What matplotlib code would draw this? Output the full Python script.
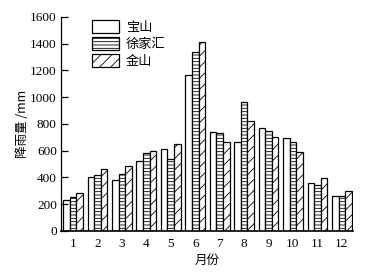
#!/usr/bin/python3

import matplotlib
matplotlib.use("Agg")
import matplotlib.pyplot as plt
import numpy as np

months = np.arange(1, 13)
month_labels = [str(m) for m in months]

baoshan = [230, 405, 377, 520, 610, 1165, 743, 668, 768, 695, 355, 263]
xujiahui = [250, 420, 425, 582, 535, 1335, 735, 963, 748, 668, 343, 263]
jinshan = [282, 462, 485, 595, 650, 1410, 668, 823, 705, 590, 398, 298]

series_names = ["宝山", "徐家汇", "金山"]

#_____________________________________________________________________________
def main():

    plt.rcParams["hatch.linewidth"] = 0.6
    cjk = ["Noto Sans CJK SC", "DejaVu Sans"]
    num = "Liberation Serif"

    fig = plt.figure(figsize=(3.79, 2.72), dpi=100)
    ax = fig.add_axes([0.161, 0.151, 0.770, 0.787])

    wid = 0.27
    hatches = ["", "-----", "///"]
    vals = [baoshan, xujiahui, jinshan]

    for i in range(3):
        ax.bar(months + (i-1)*wid, vals[i], wid, color="white", edgecolor="black",
               lw=0.9, hatch=hatches[i], label=series_names[i])

    ax.set_xlim(0.51, 12.45)
    ax.set_ylim(0, 1600)

    ax.set_yticks(np.arange(0, 1601, 200))
    ax.set_xticks(months)
    ax.set_xticklabels(month_labels)

    for lab in ax.get_xticklabels() + ax.get_yticklabels():
        lab.set_fontfamily(num)
        lab.set_fontsize(9.5)

    ax.tick_params(axis="y", direction="in", length=5, width=0.9, pad=3)
    ax.tick_params(axis="x", direction="in", length=0, pad=5)

    ax.spines["top"].set_visible(False)
    ax.spines["right"].set_visible(False)
    ax.spines["left"].set_linewidth(0.9)
    ax.spines["bottom"].set_linewidth(1.2)

    ax.set_xlabel("月份", family=cjk, fontsize=9, labelpad=3)
    ax.set_ylabel("降雨量 /mm", family=cjk, fontsize=9, labelpad=1)

    leg = ax.legend(loc="upper left", bbox_to_anchor=(0.105, 0.985), frameon=False,
                    handlelength=2.1, handleheight=1.15, handletextpad=0.5,
                    labelspacing=0.22, borderpad=0, borderaxespad=0,
                    prop={"family": cjk, "size": 9.5})

    fig.savefig("out.png", dpi=100)
    plt.close()

#main

#_____________________________________________________________________________
if __name__ == "__main__":

    main()
